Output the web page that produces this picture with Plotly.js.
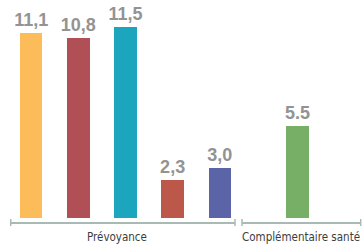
<!DOCTYPE html>
<html>
<head>
<meta charset="utf-8">
<script src="https://cdn.plot.ly/plotly-3.0.1.min.js"></script>
<style>html,body{margin:0;padding:0;background:#fff;}#chart{width:362px;height:244px;}</style>
</head>
<body>
<div id="chart"></div>
<script>
// Data
const groups = ["Prévoyance", "Complémentaire santé"];
const prevCategories = ["A", "B", "C", "D", "E"];
const prevValues = [11.1, 10.8, 11.5, 2.3, 3.0];
const prevLabels = ["11,1", "10,8", "11,5", "2,3", "3,0"];
const santeCategories = ["F"];
const santeValues = [5.5];
const santeLabels = ["5.5"];

const prevColors = ["#FDBC5A", "#B14F56", "#1CA6BE", "#BC5849", "#5B64A7"];
const santeColors = ["#77AF67"];

const W = 362, H = 244;
const px = v => v / W;
const lineColor = "#a9bab5";
const valueFont = {family: "Liberation Sans, Arial, sans-serif", size: 18, color: "#939393", weight: 700};

const traces = [
  {
    type: "bar", x: prevCategories, y: prevValues, text: prevLabels,
    xaxis: "x", yaxis: "y",
    marker: {color: prevColors, line: {width: 0}},
    width: 0.473, textposition: "outside", cliponaxis: false, constraintext: "none",
    textfont: valueFont, hoverinfo: "none"
  },
  {
    type: "bar", x: santeCategories, y: santeValues, text: santeLabels,
    xaxis: "x2", yaxis: "y2",
    marker: {color: santeColors, line: {width: 0}},
    width: 0.194, textposition: "outside", cliponaxis: false, constraintext: "none",
    textfont: valueFont, hoverinfo: "none"
  }
];

const yr = [-0.26, 11.91];
const xCommon = {
  showgrid: false, zeroline: false, showticklabels: false, ticks: "",
  showline: true, linecolor: lineColor, linewidth: 1.5, fixedrange: true
};
const yCommon = {range: yr, visible: false, fixedrange: true, showgrid: false, zeroline: false};

function caps(xref) {
  return [0, 1].map(xv => ({
    type: "line", xref: xref, x0: xv, x1: xv,
    yref: "paper", ysizemode: "pixel", yanchor: 0, y0: -4, y1: 3,
    line: {color: lineColor, width: 1.5}
  }));
}

const labelFont = {family: "DejaVu Sans Condensed, Liberation Sans, sans-serif", size: 11.5, color: "#3d3d3d"};

const layout = {
  width: W, height: H,
  margin: {l: 0, r: 0, t: 20, b: 22, pad: 0},
  paper_bgcolor: "#ffffff", plot_bgcolor: "#ffffff",
  showlegend: false, bargap: 0,
  xaxis: Object.assign({}, xCommon, {domain: [px(10.7), px(235)], range: [-0.435, 4.323], anchor: "y"}),
  yaxis: Object.assign({}, yCommon, {anchor: "x"}),
  xaxis2: Object.assign({}, xCommon, {domain: [px(242), px(360.7)], range: [-0.4676, 0.5324], anchor: "y2"}),
  yaxis2: Object.assign({}, yCommon, {anchor: "x2"}),
  shapes: caps("x domain").concat(caps("x2 domain")),
  annotations: [
    {text: groups[0], xref: "paper", x: px(116.7), yref: "paper", y: 0, yshift: -15,
     xanchor: "center", yanchor: "middle", showarrow: false, font: labelFont},
    {text: groups[1], xref: "paper", x: px(300.8), yref: "paper", y: 0, yshift: -15,
     xanchor: "center", yanchor: "middle", showarrow: false, font: labelFont}
  ]
};

Plotly.newPlot("chart", traces, layout, {displayModeBar: false, staticPlot: true});
</script>
</body>
</html>
